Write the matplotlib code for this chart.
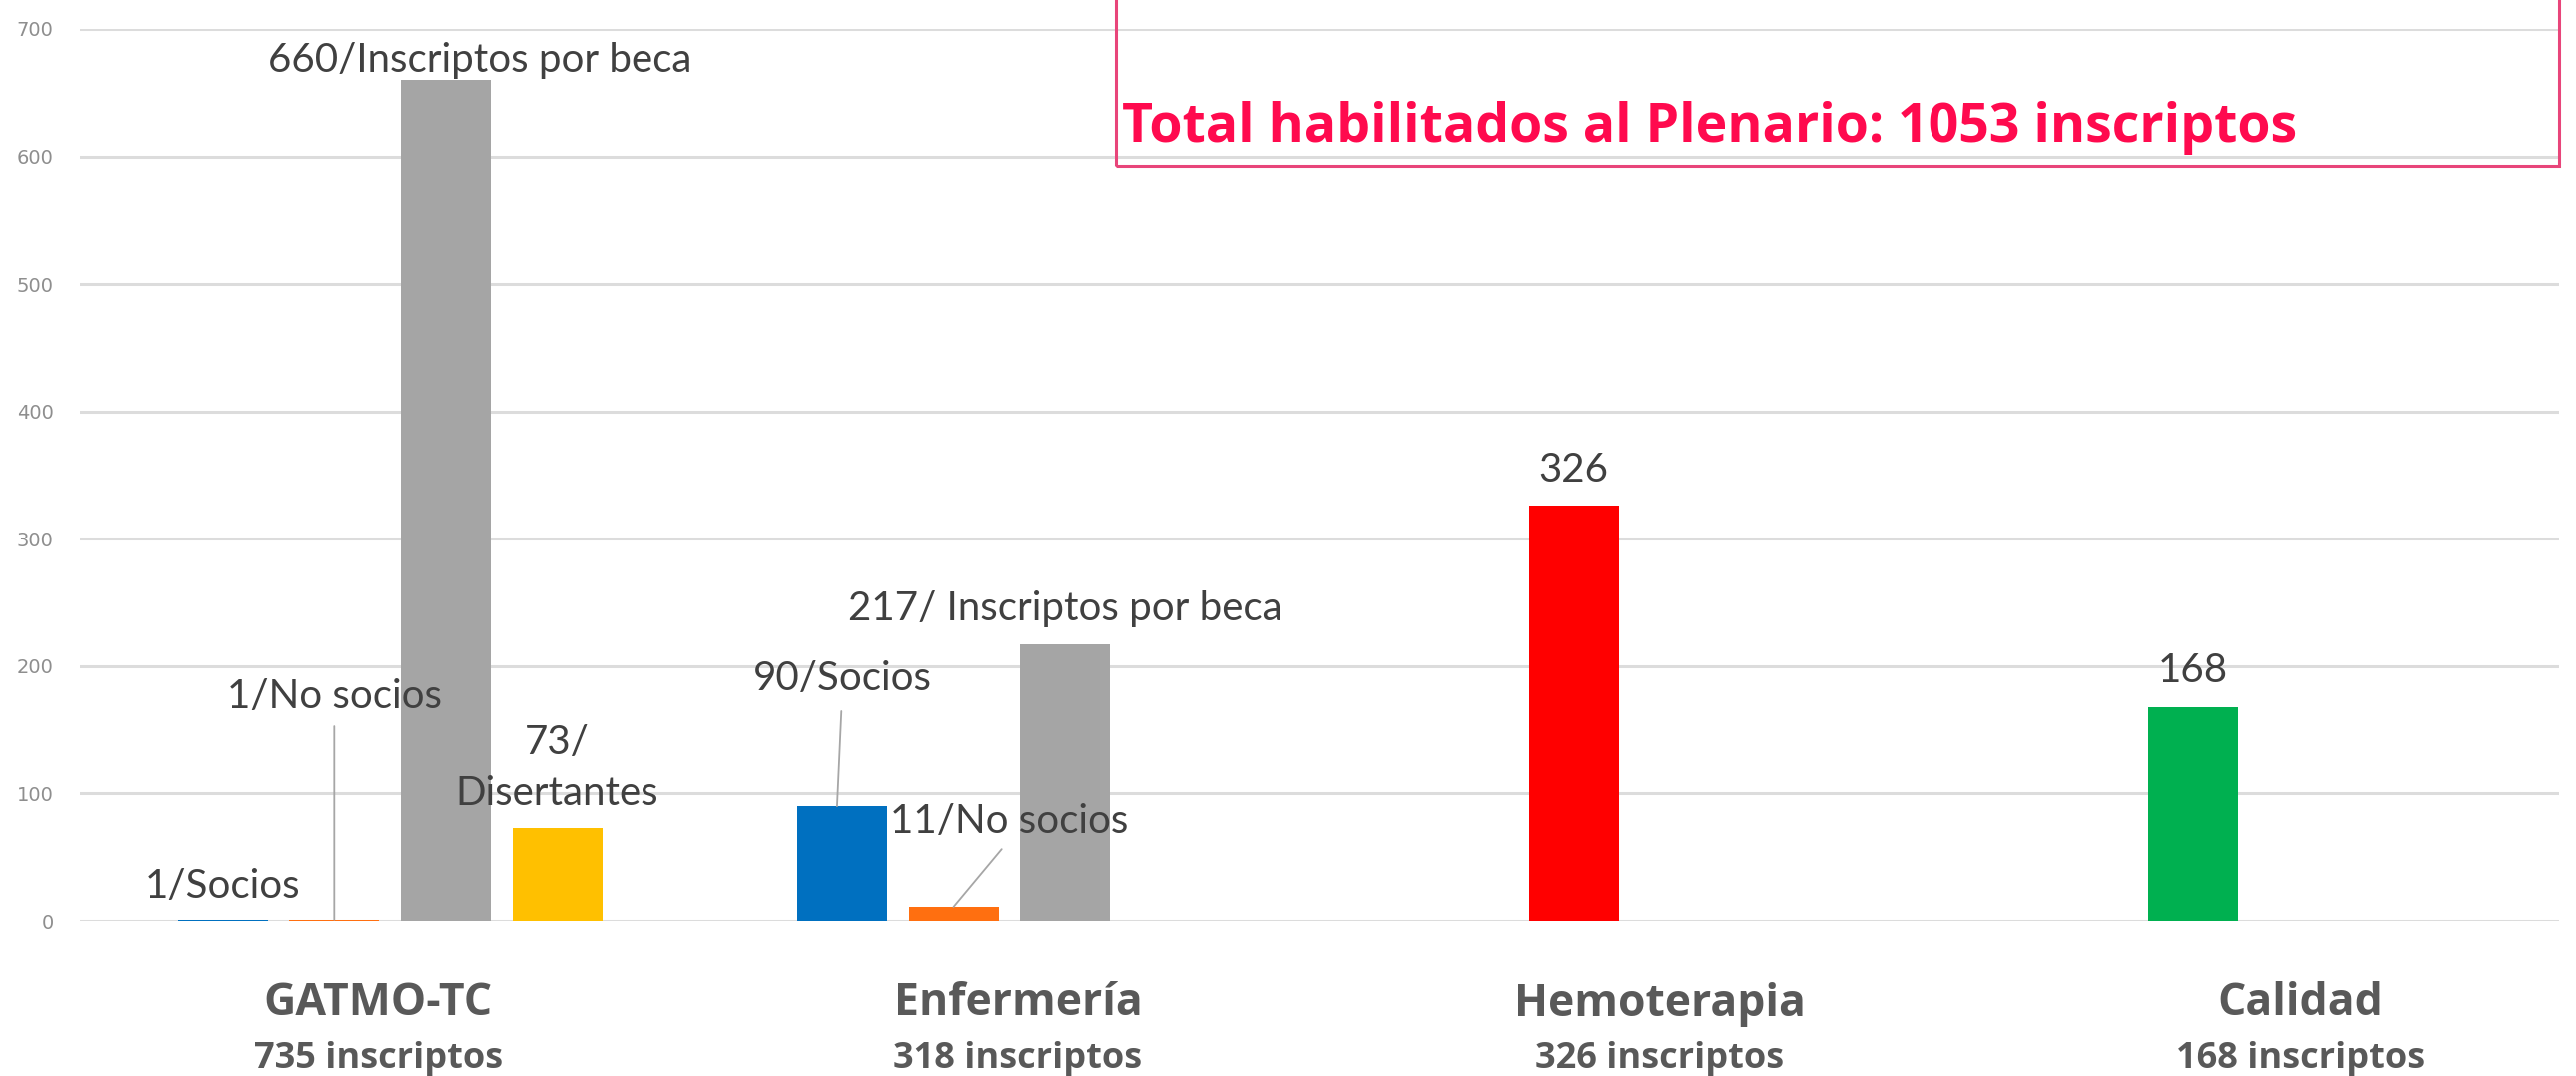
import matplotlib
matplotlib.use("Agg")
import matplotlib.pyplot as plt
from matplotlib.patches import Rectangle
import matplotlib.transforms as mtransforms

# ---------------- data ----------------
categories = ["GATMO-TC", "Enfermería", "Hemoterapia", "Calidad"]
inscriptos = [735, 318, 326, 168]

socios = [1, 90, None, None]
no_socios = [1, 11, None, None]
beca = [660, 217, None, None]
disertantes = [73, None, None, None]
totales = [None, None, 326, 168]

yticks = [0, 100, 200, 300, 400, 500, 600, 700]
total_text = "Total habilitados al Plenario: 1053 inscriptos"

# ---------------- style ----------------
W, H = 2578, 1077
fig = plt.figure(figsize=(W / 100, H / 100), dpi=100)
fig.patch.set_facecolor("white")
ax = fig.add_axes([80 / W, 1 - 922 / H, (2561 - 80) / W, (922 - 29) / H])
ax.set_xlim(-0.5, 3.5)
ax.set_ylim(0, 700)
ax.set_yticks(yticks)
ax.set_yticklabels([str(t) for t in yticks])
ax.yaxis.grid(True, color="#dcdcdc", lw=2.2)
ax.set_axisbelow(True)
for s in ax.spines.values():
    s.set_visible(False)
ax.set_xticks([])
ax.tick_params(axis="y", length=0, pad=19, labelcolor="#8e8e8e", labelsize=14)

step = 0.18
width = 0.145

def slot_x(i, slot):
    return i + (slot - 1.5) * step

series = [
    (socios, 0, ["#0070C0"] * 4),
    (no_socios, 1, ["#FF6F10"] * 4),
    (beca, 2, ["#A5A5A5"] * 4),
    (disertantes, 3, ["#FFC000"] * 4),
    (totales, 1, [None, None, "#FF0000", "#00B050"]),
]
for vals, slot, cols in series:
    for i, v in enumerate(vals):
        if v is not None:
            ax.bar(slot_x(i, slot), v, width, color=cols[i], linewidth=0)

lab_font = dict(family="Lato", fontsize=29, color="#404040", ha="center", va="center")
lc = "#a6a6a6"

# GATMO-TC labels
ax.text(slot_x(0, 0), 27, f"{socios[0]}/Socios", **lab_font)
ax.annotate(f"{no_socios[0]}/No socios", xy=(slot_x(0, 1), no_socios[0]),
            xytext=(slot_x(0, 1), 176), **lab_font,
            arrowprops=dict(arrowstyle="-", color=lc, lw=1.3, shrinkA=6, shrinkB=0,
                            relpos=(0.5, 0)))
ax.text(slot_x(0, 2) + 0.055, 675, f"{beca[0]}/Inscriptos por beca", **lab_font)
ax.text(slot_x(0, 3), 120, f"{disertantes[0]}/\nDisertantes", linespacing=1.45, **lab_font)

# Enfermería labels
ax.annotate(f"{socios[1]}/Socios", xy=(slot_x(1, 0) - 0.008, socios[1]),
            xytext=(slot_x(1, 0), 190), **lab_font,
            arrowprops=dict(arrowstyle="-", color=lc, lw=1.3, shrinkA=8, shrinkB=0,
                            relpos=(0.5, 0)))
ax.annotate(f"{no_socios[1]}/No socios", xy=(slot_x(1, 1), no_socios[1]),
            xytext=(slot_x(1, 1) + 0.09, 78), **lab_font,
            arrowprops=dict(arrowstyle="-", color=lc, lw=1.3, shrinkA=6, shrinkB=0,
                            relpos=(0.5, 0)))
ax.text(slot_x(1, 2), 245, f"{beca[1]}/ Inscriptos por beca", **lab_font)

# single value labels
for i in (2, 3):
    ax.text(slot_x(i, 1), totales[i] + 28, str(totales[i]), **lab_font)

# category labels
cat_label_x = [-0.019, 1.014, 2.049, 3.083]
tr = mtransforms.blended_transform_factory(ax.transData, fig.transFigure)
for i, c in enumerate(categories):
    ax.text(cat_label_x[i], 1 - 1005 / H, c, transform=tr, family="Open Sans",
            fontweight="bold", fontsize=32, color="#595959", ha="center", va="center")
    ax.text(cat_label_x[i], 1 - 1060 / H, f"{inscriptos[i]} inscriptos", transform=tr,
            family="Open Sans", fontweight="bold", fontsize=26, color="#595959",
            ha="center", va="center")

# top box
box = Rectangle((1117 / W, 1 - 166 / H), (2561 - 1117) / W, 0.3, transform=fig.transFigure,
                fill=False, edgecolor="#E8457A", lw=2.2, clip_on=False)
fig.patches.append(box)
fig.text(1123 / W, 1 - 128 / H, total_text, family="Open Sans", fontweight="bold",
         fontsize=38.6, color="#FF0A4E", ha="left", va="center")

fig.savefig("out.png", dpi=100, facecolor="white")
